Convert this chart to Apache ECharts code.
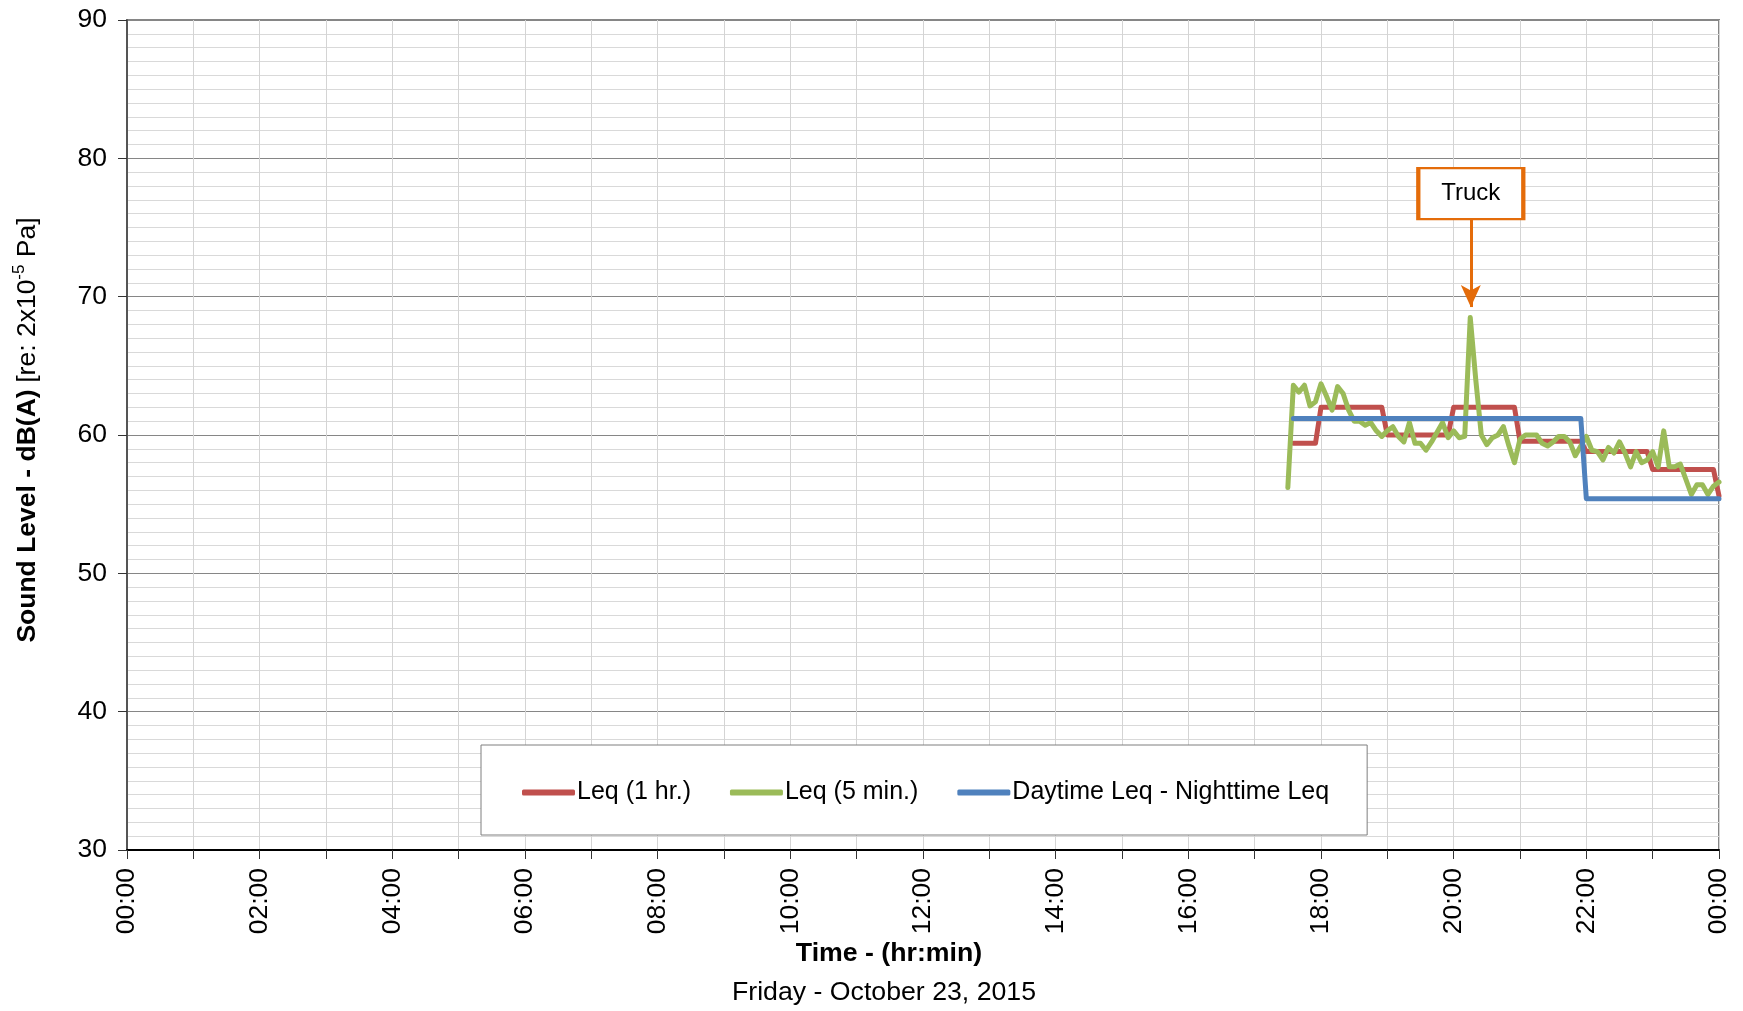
<!DOCTYPE html>
<html>
<head>
<meta charset="utf-8">
<script src="https://cdn.jsdelivr.net/npm/echarts@6/dist/echarts.min.js"></script>
<style>
html,body{margin:0;padding:0;background:#fff;}
#chart{width:1743px;height:1011px;}
</style>
</head>
<body>
<div id="chart"></div>
<script>
// ---- DATA ----
const leq5Times = ["17:30","17:35","17:40","17:45","17:50","17:55",
  "18:00","18:05","18:10","18:15","18:20","18:25","18:30","18:35","18:40","18:45","18:50","18:55",
  "19:00","19:05","19:10","19:15","19:20","19:25","19:30","19:35","19:40","19:45","19:50","19:55",
  "20:00","20:05","20:10","20:15","20:20","20:25","20:30","20:35","20:40","20:45","20:50","20:55",
  "21:00","21:05","21:10","21:15","21:20","21:25","21:30","21:35","21:40","21:45","21:50","21:55",
  "22:00","22:05","22:10","22:15","22:20","22:25","22:30","22:35","22:40","22:45","22:50","22:55",
  "23:00","23:05","23:10","23:15","23:20","23:25","23:30","23:35","23:40","23:45","23:50","23:55","24:00"];
const leq5Values = [56.2,63.6,63.1,63.6,62.1,62.4,
  63.7,62.8,61.8,63.5,63.0,61.8,61.0,61.0,60.7,60.9,60.3,59.9,
  60.3,60.6,59.9,59.5,60.9,59.4,59.4,58.9,59.5,60.2,60.9,59.8,
  60.3,59.8,59.9,68.5,64.0,60.0,59.3,59.8,60.0,60.6,59.2,58.0,
  59.7,60.0,60.0,60.0,59.4,59.2,59.5,59.9,59.9,59.5,58.5,59.2,
  59.9,58.9,58.8,58.2,59.1,58.7,59.5,58.7,57.7,58.8,58.0,58.2,
  58.8,57.7,60.3,57.7,57.7,57.9,56.8,55.7,56.4,56.4,55.7,56.3,56.6];

const leq1hTimes = ["17:35","17:55","18:00","18:55","19:00","19:55","20:00","20:55",
  "21:00","21:55","22:00","22:55","23:00","23:55","24:00"];
const leq1hValues = [59.4,59.4,62.0,62.0,60.0,60.0,62.0,62.0,
  59.55,59.55,58.8,58.8,57.5,57.5,55.6];

const dayNightTimes = ["17:35","21:55","22:00","24:00"];
const dayNightValues = [61.2,61.2,55.4,55.4];

const seriesNames = ["Leq (1 hr.)","Leq (5 min.)","Daytime Leq - Nighttime Leq"];
const seriesColors = ["#C0504D","#9BBB59","#4F81BD"];

const truckLabel = "Truck";
const truckTime = "20:15:30";
const truckBoxLevel = 77.45;
const truckArrowStart = 75.6;
const truckArrowEnd = 69.25;

const yMin = 30, yMax = 90, yStep = 10;
const xMinHr = 0, xMaxHr = 24, xStepHr = 1;

// ---- helpers ----
function toHours(t){
  const p = t.split(":").map(Number);
  return p[0] + (p[1]||0)/60 + (p[2]||0)/3600;
}
function pairs(times, vals){ return times.map((t,i)=>[toHours(t), vals[i]]); }
function fmtHour(v){
  if (Math.round(v) % 2 !== 0) return "";
  const h = Math.round(v) % 24;
  return (h<10?"0":"") + h + ":00";
}

const FONT = "'Liberation Sans', Arial, sans-serif";
const chart = echarts.init(document.getElementById('chart'), null, {renderer:'canvas'});
const tH = toHours(truckTime);

const option = {
  animation:false,
  backgroundColor:'#ffffff',
  textStyle:{fontFamily:FONT},
  grid:{left:127,right:24,top:20,bottom:161,show:true,borderColor:'#868686',borderWidth:2,backgroundColor:'transparent'},
  legend:{
    left:481, top:745,
    padding:[35,38,30,41],
    borderColor:'#7f7f7f', borderWidth:1, backgroundColor:'#fff',
    itemWidth:53, itemHeight:6, itemGap:39, icon:'roundRect',
    textStyle:{fontSize:25,color:'#000',fontFamily:FONT,padding:[0,0,0,-3]},
    data:seriesNames
  },
  xAxis:{
    type:'value', min:xMinHr, max:xMaxHr, interval:xStepHr,
    axisLine:{show:true,lineStyle:{color:'#000',width:2}},
    axisTick:{show:true,length:9,lineStyle:{color:'#333',width:1}},
    axisLabel:{rotate:90,margin:18,fontSize:26.5,color:'#000',fontFamily:FONT,formatter:fmtHour,showMaxLabel:true,showMinLabel:true},
    splitLine:{show:true,lineStyle:{color:'#d4d4d4',width:1}}
  },
  yAxis:{
    type:'value', min:yMin, max:yMax, interval:yStep,
    axisLine:{show:true,lineStyle:{color:'#555',width:2}},
    axisTick:{show:true,length:9,lineStyle:{color:'#333',width:1}},
    axisLabel:{margin:20,fontSize:26.5,color:'#000',fontFamily:FONT},
    splitLine:{show:true,lineStyle:{color:'#868686',width:1}},
    minorTick:{show:false,splitNumber:10},
    minorSplitLine:{show:true,lineStyle:{color:'#d9d9d9',width:1}},
    name:'{b|Sound Level - dB(A)}  {n|[re: 2x10}{s|-5}{n| Pa]}',
    nameLocation:'middle', nameGap:86, nameRotate:90,
    nameTextStyle:{
      fontFamily:FONT,
      padding:[0,0,0,10],
      rich:{
        b:{fontSize:26.5,fontWeight:'bold',color:'#000',fontFamily:FONT,lineHeight:30,verticalAlign:'bottom'},
        n:{fontSize:26.5,color:'#000',fontFamily:FONT,lineHeight:30,verticalAlign:'bottom'},
        s:{fontSize:17,color:'#000',fontFamily:FONT,lineHeight:30,verticalAlign:'top'}
      }
    }
  },
  series:[
    {name:seriesNames[0],type:'line',data:pairs(leq1hTimes,leq1hValues),showSymbol:false,
     lineStyle:{color:seriesColors[0],width:5,join:'round',cap:'round'},itemStyle:{color:seriesColors[0]},z:2},
    {name:seriesNames[1],type:'line',data:pairs(leq5Times,leq5Values),showSymbol:false,
     lineStyle:{color:seriesColors[1],width:5,join:'round',cap:'round'},itemStyle:{color:seriesColors[1]},z:3,
     markLine:{silent:true,symbol:['none','arrow'],symbolSize:[15,22],
       lineStyle:{color:'#E46C0A',width:3,type:'solid'},label:{show:false},
       data:[[{coord:[tH,truckArrowStart]},{coord:[tH,truckArrowEnd]}]]},
     markPoint:{silent:true,symbol:'rect',symbolSize:[105,51],
       itemStyle:{color:'#fff',borderColor:'#E46C0A',borderWidth:3},
       label:{show:true,position:'inside',formatter:truckLabel,color:'#000',fontSize:24,
         fontFamily:"'Liberation Sans Narrow','Arial Narrow','Liberation Sans',sans-serif"},
       data:[{coord:[tH,truckBoxLevel]}]}
    },
    {name:seriesNames[2],type:'line',data:pairs(dayNightTimes,dayNightValues),showSymbol:false,
     lineStyle:{color:seriesColors[2],width:5,join:'round',cap:'round'},itemStyle:{color:seriesColors[2]},z:4}
  ],
  graphic:[
    {type:'text',x:889,y:954,style:{text:'Time - (hr:min)',font:"bold 26.7px "+FONT,fill:'#000',textAlign:'center',textVerticalAlign:'middle'}},
    {type:'text',x:884,y:993,style:{text:'Friday - October 23, 2015',font:"26.7px "+FONT,fill:'#000',textAlign:'center',textVerticalAlign:'middle'}}
  ]
};
chart.setOption(option);
</script>
</body>
</html>
